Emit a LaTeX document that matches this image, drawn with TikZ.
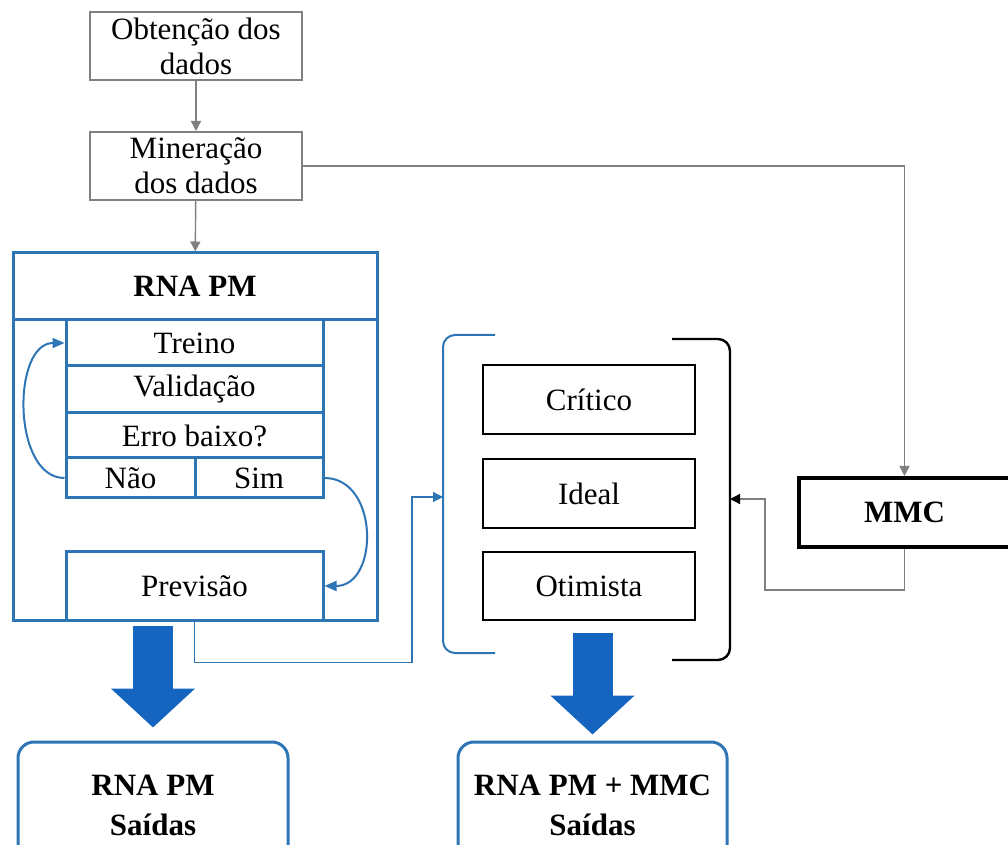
\documentclass[tikz,border=0pt]{standalone}
\usepackage{fontspec}
\setmainfont{Liberation Serif}
\usepackage{xcolor}
\usetikzlibrary{arrows.meta, calc, positioning}

\definecolor{boxblue}{RGB}{46,117,182}
\definecolor{arrowblue}{RGB}{21,101,192}
\definecolor{linegray}{RGB}{128,128,128}

\begin{document}
\begin{tikzpicture}[
    x=0.5pt, y=0.5pt,
    every node/.style={font=\fontsize{15.5}{17.5}\selectfont, align=center, inner sep=1pt},
    stepbox/.style={draw=linegray, line width=1pt, minimum width=106pt, minimum height=34pt},
    rnapart/.style={draw=boxblue, line width=1.5pt},
    rowbox/.style={rnapart, minimum width=128.5pt, minimum height=23pt},
    scenario/.style={draw, line width=1.2pt, minimum width=106pt, minimum height=34.5pt},
    result/.style={draw=boxblue, line width=1.5pt, rounded corners=8pt, minimum width=135pt, minimum height=63pt, font=\bfseries\fontsize{15.5}{20}\selectfont},
    link/.style={draw=linegray, line width=0.7pt, -{Triangle[width=5pt,length=5pt]}},
    cyclearrow/.style={draw=boxblue, line width=1pt, -{Triangle[width=5pt,length=6pt]}},
    bigarrow/.style={draw=arrowblue, line width=20pt, -{Triangle[width=41pt,length=19.5pt]}}
]
    \useasboundingbox (0,0) rectangle (1008,-845);
    \clip (0,0) rectangle (1008,-845);

    % ================= DATA STEPS =================
    \node[stepbox] (obt) at (196,-46) {Obtenção dos\\dados};
    \node[stepbox] (mine) at (196,-166) {Mineração\\dos dados};

    % ================= RNA PM =================
    \node[rnapart, minimum width=182pt, minimum height=33.5pt, font=\bfseries\fontsize{15.5}{17.5}\selectfont] (rnahead) at (195,-286.5) {RNA PM};
    \node[rnapart, minimum width=182pt, minimum height=150pt] (rnabody) at (195,-470) {};
    \node[rowbox] (treino) at (194.5,-343) {Treino};
    \node[rowbox, minimum height=23.5pt] (valid) at (194.5,-389.5) {Validação};
    \node[rowbox, minimum height=22.5pt] (erro) at (194.5,-435.5) {Erro baixo?};
    \node[rowbox, minimum width=64.5pt, minimum height=20pt] (nao) at (130.5,-478) {Não};
    \node[rowbox, minimum width=64pt, minimum height=20pt] (sim) at (259,-478) {Sim};
    \node[rowbox, minimum height=34pt] (prev) at (194.5,-586) {Previsão};

    \draw[cyclearrow] (nao.west) to[out=180, in=180] (treino.west);
    \draw[cyclearrow] (sim.east) to[out=0, in=0, looseness=1.3] (prev.east);

    % ================= SCENARIOS =================
    \node[scenario] (crit) at (589,-399.5) {Crítico};
    \node[scenario] (ideal) at (589,-493.5) {Ideal};
    \node[scenario, minimum height=34pt] (otim) at (589,-586) {Otimista};

    \draw[boxblue, line width=1pt, rounded corners=6pt] (495,-335) -- (443,-335) -- (443,-653) -- (495,-653);
    \draw[black, line width=1.2pt, rounded corners=6pt] (672,-339) -- (730,-339) -- (730,-660) -- (672,-660);
    \coordinate (bl) at (443,-497);
    \coordinate (br) at (730,-499);

    % ================= MMC =================
    \node[draw, line width=2pt, minimum width=105.5pt, minimum height=34.5pt, font=\bfseries\fontsize{15.5}{17.5}\selectfont] (mmc) at (904.5,-512.5) {MMC};

    % ================= OUTPUTS =================
    \node[result] (out1) at (153,-805) {RNA PM\\Saídas};
    \node[result, minimum width=134.5pt] (out2) at (592.5,-805) {RNA PM + MMC\\Saídas};

    % ================= CONNECTIONS =================
    \draw[link] (obt) -- (mine);
    \draw[link] (mine) -- (rnahead);
    \draw[link] (mine.east) -| (mmc.north);
    \draw[draw=boxblue, line width=0.6pt, -{Triangle[boxblue,width=5pt,length=5pt]}] (prev.south) -- ++(0,-41) -| ($(bl)+(-31,0)$) -- (bl);
    \draw[draw=linegray, line width=0.7pt, -{Triangle[black,width=5pt,length=5pt]}] (mmc.south) -- ++(0,-41) -| ($(br)+(35,0)$) -- (br);

    \draw[bigarrow, shorten <=2pt, shorten >=6.5pt] (out1.north |- rnabody.south) -- (out1.north);
    \draw[bigarrow, shorten <=6pt, shorten >=3pt] (out2.north |- otim.south) -- (out2.north);

\end{tikzpicture}
\end{document}
